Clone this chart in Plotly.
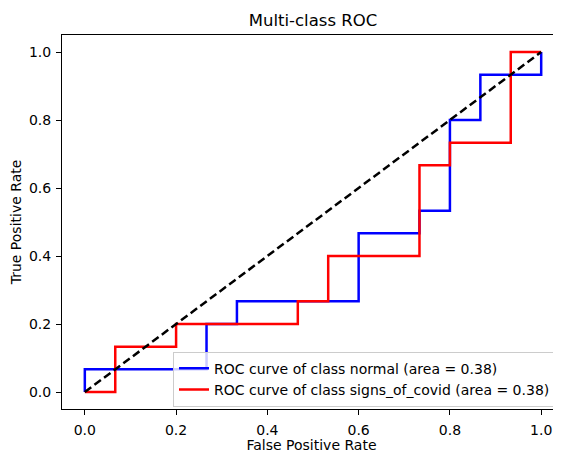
import plotly.graph_objects as go

# ROC points (false positive rate, true positive rate)
normal_fpr = [0.0, 0.0, 0.2667, 0.2667, 0.3333, 0.3333, 0.6, 0.6, 0.7333, 0.7333,
              0.8, 0.8, 0.8667, 0.8667, 1.0, 1.0]
normal_tpr = [0.0, 0.0667, 0.0667, 0.2, 0.2, 0.2667, 0.2667, 0.4667, 0.4667, 0.5333,
              0.5333, 0.8, 0.8, 0.9333, 0.9333, 1.0]
covid_fpr = [0.0, 0.0667, 0.0667, 0.2, 0.2, 0.4667, 0.4667, 0.5333, 0.5333, 0.7333,
             0.7333, 0.8, 0.8, 0.9333, 0.9333, 1.0]
covid_tpr = [0.0, 0.0, 0.1333, 0.1333, 0.2, 0.2, 0.2667, 0.2667, 0.4, 0.4,
             0.6667, 0.6667, 0.7333, 0.7333, 1.0, 1.0]
chance_x = [0.0, 1.0]
chance_y = [0.0, 1.0]

class_names = ["normal", "signs_of_covid"]
class_auc = [0.38, 0.38]
tick_vals = [0.0, 0.2, 0.4, 0.6, 0.8, 1.0]
tick_text = ["0.0", "0.2", "0.4", "0.6", "0.8", "1.0"]

FONT = "DejaVu Sans"
# the page body adds an 8px offset, so the figure is 8px smaller and shifted
W, H = 553, 445

fig = go.Figure()
fig.add_trace(go.Scatter(x=normal_fpr, y=normal_tpr, mode="lines",
                         line=dict(color="#0000ff", width=2.5),
                         name=f"ROC curve of class {class_names[0]} (area = {class_auc[0]:.2f})"))
fig.add_trace(go.Scatter(x=covid_fpr, y=covid_tpr, mode="lines",
                         line=dict(color="#ff0000", width=2.5),
                         name=f"ROC curve of class {class_names[1]} (area = {class_auc[1]:.2f})"))
fig.add_trace(go.Scatter(x=chance_x, y=chance_y, mode="lines",
                         line=dict(color="black", width=2.5, dash="8px,4px"),
                         showlegend=False))

axis_common = dict(showgrid=False, zeroline=False, showline=True, linecolor="black",
                   linewidth=1, ticks="outside", ticklen=5, tickcolor="black",
                   tickfont=dict(family=FONT, size=14, color="black"),
                   tickvals=tick_vals, ticktext=tick_text, automargin=False)

fig.update_layout(
    width=W, height=H,
    margin=dict(l=54, r=0, t=27, b=44),
    paper_bgcolor="white", plot_bgcolor="white",
    title=dict(text="Multi-class ROC", x=0.503, xref="paper", xanchor="center",
               y=1 - 6 / H, yref="container", yanchor="top",
               font=dict(family=FONT, size=16.5, color="black")),
    xaxis=dict(range=[-0.05, 1.0434], mirror=True, ticklabelstandoff=3,
               title=dict(text="False Positive Rate", standoff=0,
                          font=dict(family=FONT, size=14, color="black")),
               **axis_common),
    yaxis=dict(range=[-0.05, 1.05], ticklabelstandoff=2,
               title=dict(text="True Positive Rate", standoff=7,
                          font=dict(family=FONT, size=14, color="black")),
               **axis_common),
    legend=dict(x=0.99, y=0.006, xanchor="right", yanchor="bottom",
                bgcolor="rgba(255,255,255,0.8)", bordercolor="#cccccc", borderwidth=1,
                font=dict(family=FONT, size=14, color="black"),
                tracegroupgap=0, itemwidth=30),
    showlegend=True,
)

fig.write_html("out.html")
